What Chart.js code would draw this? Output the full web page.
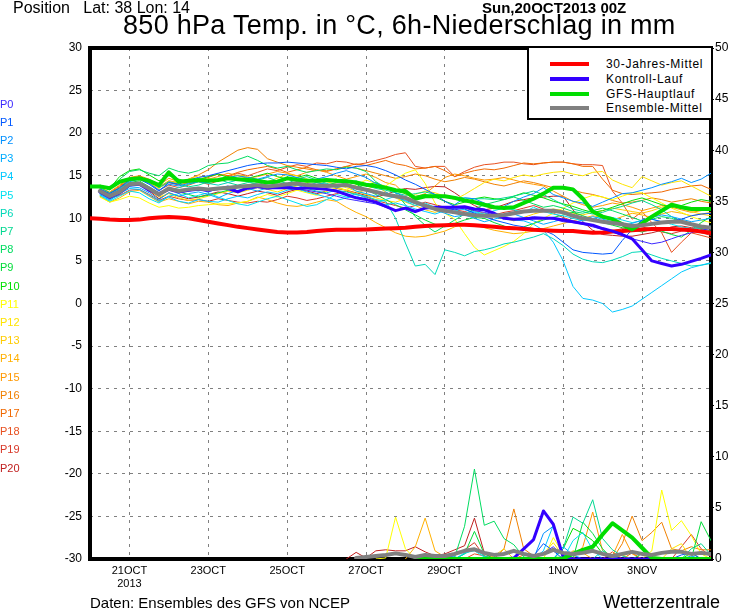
<!DOCTYPE html>
<html><head><meta charset="utf-8">
<script src="https://cdn.jsdelivr.net/npm/chart.js@4.4.1/dist/chart.umd.min.js"></script>
<style>
body{margin:0;background:#fff;}
#wrap{position:relative;width:730px;height:609px;overflow:hidden;font-family:"Liberation Sans",Arial,sans-serif;background:#fff;}
canvas{position:absolute;left:0;top:0;}
.t{position:absolute;white-space:pre;line-height:1;color:#000;}
#leg{position:absolute;left:527px;top:46px;width:182px;height:70px;border:2px solid #000;border-right:none;background:#fff;}
.ls{position:absolute;left:21px;width:39px;height:4px;}
.lt{position:absolute;left:77px;font-size:12px;letter-spacing:0.7px;line-height:1;white-space:pre;}
</style></head><body>
<div id="wrap">
<canvas id="c" width="730" height="609"></canvas>
<div class="t" style="left:13px;top:0px;font-size:16px;">Position   Lat: 38 Lon: 14</div>
<div class="t" style="left:482px;top:0px;font-size:15px;font-weight:bold;">Sun,20OCT2013 00Z</div>
<div class="t" style="left:123px;top:12px;font-size:27px;letter-spacing:0.3px;">850 hPa Temp. in °C, 6h-Niederschlag in mm</div>
<div class="t" style="left:90px;top:595px;font-size:15px;">Daten: Ensembles des GFS von NCEP</div>
<div class="t" style="right:10px;top:593px;font-size:18px;">Wetterzentrale</div>
<div id="leg">
  <div class="ls" style="top:14px;background:#ff0000"></div><div class="lt" style="top:10px">30-Jahres-Mittel</div>
  <div class="ls" style="top:29px;background:#3300ff"></div><div class="lt" style="top:25px">Kontroll-Lauf</div>
  <div class="ls" style="top:44px;background:#00dd00"></div><div class="lt" style="top:40px">GFS-Hauptlauf</div>
  <div class="ls" style="top:58px;background:#808080"></div><div class="lt" style="top:54px">Ensemble-Mittel</div>
</div>
<div id="plabels"></div>
</div>
<script>
const _ = null;
// x axis: 6-hourly steps from 20OCT2013 00Z (index 0) to index 63
const XTICK_IDX = [4, 12, 20, 28, 36, 48, 56];
const XTICK_LABELS = [['21OCT','2013'], '23OCT', '25OCT', '27OCT', '29OCT', '1NOV', '3NOV'];
const MEMBER_NAMES = ['P0','P1','P2','P3','P4','P5','P6','P7','P8','P9','P10','P11','P12','P13','P14','P15','P16','P17','P18','P19','P20'];
const MEMBER_COLORS = ['#3c28ff','#0058ff','#0090ff','#00acff','#00c8ff','#00e0f0','#00d8b8','#00d890','#00dc60','#00dc38','#00e000','#ffff00','#ffe400','#ffcc00','#ffb000','#ff9800','#f08000','#f06800','#e85020','#d83828','#c02020'];

// thick lines (850 hPa temperature, deg C)
const climT = [10.0,9.95,9.85,9.8,9.8,9.85,10.0,10.1, 10.15,10.1,10.0,9.8,9.6,9.4,9.2,9.0, 8.85,8.7,8.55,8.4,8.35,8.35,8.4,8.5, 8.6,8.65,8.67,8.67,8.7,8.75,8.8,8.85, 8.9,9.0,9.1,9.15,9.2,9.25,9.25,9.2, 9.1,9.0,8.9,8.85,8.75,8.65,8.6,8.55, 8.5,8.5,8.4,8.3,8.35,8.45,8.5,8.6, 8.7,8.75,8.75,8.75,8.7,8.6,8.45,8.3];
const ctrlT = [_,13.1,12.5,13.0,13.9,14.0,13.3,12.9, 13.4,13.1,13.3,13.4,13.3,13.5,13.5,13.1, 13.6,13.8,13.6,13.6,13.6,13.5,13.6,13.5, 13.4,13.2,12.8,12.4,12.2,11.9,11.4,10.9, 11.2,10.8,11.2,11.3,11.3,11.3,11.35,11.1, 11.0,10.6,10.0,9.9,9.95,10.0,10.0,10.0, 9.8,9.6,9.4,9.2,8.8,8.5,8.1,7.6, 6.3,5.0,4.7,4.4,4.6,4.95,5.3,5.7];
const mainT = [13.75,13.75,13.55,14.3,14.6,14.7,14.4,13.9, 15.4,14.3,14.4,14.5,14.4,14.5,14.7,14.6, 14.5,14.4,14.2,14.3,14.7,14.5,14.4,14.4, 14.5,14.4,14.35,14.2,13.95,13.8,13.6,13.3, 13.2,12.3,12.6,12.6,12.6,12.4,12.1,11.9, 11.6,11.3,11.2,11.3,11.8,12.3,12.9,13.6, 13.6,13.4,12.3,10.8,10.2,9.9,9.3,8.7, 9.4,10.2,10.9,11.6,11.3,11.1,11.1,11.1];
const meanT = [_,13.2,12.6,13.1,14.0,14.1,13.5,12.8, 13.5,13.2,13.4,13.5,13.4,13.5,13.6,13.7, 13.8,13.9,13.75,13.85,14.0,14.1,13.9,13.85, 13.8,13.85,13.9,13.6,13.35,13.1,12.8,12.6, 12.4,11.9,11.5,11.1,10.9,10.7,10.5,10.35, 10.3,10.3,10.4,10.6,10.8,10.9,10.9,10.9, 10.7,10.3,10.0,9.8,9.6,9.45,9.3,9.1, 9.2,9.35,9.5,9.6,9.6,9.3,9.05,8.9];

// ensemble members (850 hPa temperature)
const p0 = [_,13.0,12.3,13.2,14.0,14.2,13.4,12.6, 13.6,13.0,13.2,13.4,13.1,13.5,13.8,13.2, 13.4,13.6,13.4,13.6,13.8,13.5,13.3,13.1, 12.9,12.6,12.3,12.1,11.9,11.7,11.3,10.9, 11.3,10.9,11.2,11.4,11.2,11.0,11.2,10.9, 10.7,10.4,10.1,9.9,10.0,10.2,10.1,9.9, 9.6,9.5,9.3,9.0,8.7,8.4,8.0,7.6, 7.3,7.0,7.2,7.6,8.0,8.3,8.6,8.8];
const p1 = [_,13.4,12.9,13.6,14.5,14.6,14.0,13.2, 14.2,14.0,14.5,14.8,15.0,15.3,15.6,15.9, 16.2,16.4,16.5,16.5,16.6,16.5,16.4,16.3, 16.2,16.0,15.8,16.1,16.2,16.0,15.6,15.1, 14.5,14.0,13.4,12.8,12.0,11.4,11.1,10.6, 10.2,9.8,9.5,9.2,9.0,8.8,8.6,8.1, 7.2,6.3,6.0,5.9,5.8,5.9,7.4,8.7, 9.8,9.9,9.6,9.7,9.9,10.3,10.5,10.6];
const p2 = [_,13.5,12.8,13.4,14.3,14.6,14.1,13.3, 14.0,13.8,14.1,14.3,14.2,14.6,14.8,15.0, 14.8,14.6,14.9,15.2,15.1,14.8,14.5,14.6, 14.9,15.3,15.6,15.2,14.8,14.1,13.7,13.0, 12.5,12.0,11.6,11.2,11.0,11.6,12.4,12.3, 11.8,11.2,11.4,12.0,12.5,12.9,13.6,12.8, 12.4,12.0,11.8,11.4,11.9,12.4,12.9,13.0, 13.3,13.6,14.0,14.3,14.7,14.2,14.6,15.3];
const p3 = [_,12.9,12.2,12.8,13.7,13.6,13.0,12.2, 13.0,12.6,12.9,13.1,12.8,12.4,12.9,13.3, 13.5,13.2,13.6,14.0,13.7,13.4,13.8,14.2, 14.0,13.6,13.9,13.2,12.9,12.6,13.1,12.5, 12.1,11.7,11.3,11.0,10.6,10.2,10.4,10.0, 9.6,9.9,10.2,10.5,10.1,9.7,9.3,9.6, 9.9,9.5,9.8,10.2,9.9,9.6,9.2,9.4, 9.8,10.1,10.4,10.2,9.9,9.6,9.8,10.0];
const p4 = [_,12.8,12.1,12.9,13.5,13.4,12.7,12.0, 12.5,12.0,11.8,12.2,12.0,11.9,12.3,12.6, 12.4,12.8,13.1,12.9,13.3,13.5,13.1,12.8, 12.5,12.1,12.4,12.6,12.2,11.9,11.6,11.8, 11.5,11.1,10.8,10.5,10.9,11.2,11.0,10.7, 10.4,10.2,10.0,9.8,9.7,9.3,8.6,7.2, 5.0,2.0,0.6,0.4,0.0,-1.0,-0.7,-0.3, 0.5,1.3,2.1,2.9,3.7,4.2,4.5,4.8];
const p5 = [_,12.7,12.0,12.6,13.2,13.0,12.3,11.8, 12.6,12.9,12.4,12.7,13.0,12.5,12.1,11.7, 11.5,11.9,12.3,12.6,12.2,11.8,11.4,11.6, 12.2,12.8,12.5,12.9,12.4,11.8,12.2,12.6, 12.0,11.5,11.8,11.3,10.9,11.0,10.6,10.8, 10.5,10.9,11.2,11.0,10.7,11.3,10.8,10.5, 10.3,10.0,9.7,9.9,10.3,10.1,9.8,9.5, 9.7,9.9,9.6,9.3,9.0,8.8,8.9,9.1];
const p6 = [_,13.0,12.5,13.0,13.8,14.0,13.4,12.7, 13.3,13.6,14.0,14.3,14.1,13.9,14.2,14.5, 14.3,14.0,13.8,13.5,13.6,13.9,13.5,13.2, 13.0,13.3,13.1,12.8,12.6,12.2,12.0,10.0, 7.1,4.4,4.6,3.4,6.3,6.0,5.6,6.1, 6.3,6.6,7.0,7.2,7.5,7.8,8.2,7.6, 6.8,5.8,5.2,4.9,4.8,5.1,5.5,6.0, 6.1,5.7,5.3,5.0,4.7,4.4,4.5,4.7];
const p7 = [_,13.6,13.0,13.5,14.4,14.8,14.4,13.6, 14.3,14.0,13.7,13.9,14.3,14.6,14.2,13.9, 14.2,14.5,14.8,14.4,14.1,14.6,14.9,14.5, 14.1,13.8,14.2,14.4,13.9,13.5,13.3,13.0, 12.7,12.9,13.1,12.8,12.6,12.5,12.4,12.3, 12.3,12.2,12.4,12.6,12.9,13.2,12.8,12.2, 11.6,11.1,10.8,10.5,10.7,11.1,11.4,11.8, 12.1,11.6,11.0,10.2,9.6,9.2,8.7,8.3];
const p8 = [_,13.8,13.3,14.6,15.5,15.7,15.3,15.0, 15.9,15.5,15.3,15.6,16.2,16.4,16.5,16.9, 17.3,16.8,16.2,15.9,16.1,15.7,15.4,15.6, 15.8,15.7,16.0,15.9,15.5,14.3,13.6,13.0, 11.6,10.2,9.2,8.4,9.1,9.8,10.5,11.1, 11.6,11.9,12.2,12.5,12.1,11.7,11.3,11.5, 11.2,10.8,10.6,10.9,11.2,10.9,10.5,10.1, 9.7,9.9,10.2,10.0,9.6,9.2,8.8,8.5];
const p9 = [_,13.3,12.7,13.3,14.2,14.4,13.7,13.0, 13.4,13.1,12.8,12.5,12.7,13.0,13.3,13.6, 13.9,14.2,13.9,13.6,13.8,14.3,14.6,14.2, 13.9,14.2,14.5,14.0,13.4,12.8,12.2,11.6, 11.0,10.4,9.8,9.3,9.0,9.4,9.8,10.1, 10.0,9.5,9.1,8.8,9.0,9.4,9.8,10.1, 10.4,10.7,10.3,9.9,9.5,9.2,8.9,8.6, 8.4,8.7,8.5,8.1,7.8,8.6,9.5,10.2];
const p10 = [_,13.9,13.5,14.9,15.6,15.8,15.1,14.4, 15.0,14.6,14.3,14.5,14.9,15.2,14.8,14.5, 14.7,15.0,15.3,14.9,14.6,14.8,15.1,14.7, 14.4,14.6,14.1,13.7,13.9,14.2,13.6,13.2, 12.9,12.6,12.8,12.5,12.0,11.6,11.9,12.3, 12.5,12.3,12.2,12.6,13.0,12.7,12.4,12.0, 11.7,11.4,11.0,10.7,10.9,11.3,11.7,12.1, 12.4,12.0,11.6,11.3,11.5,11.9,12.2,12.0];
const p11 = [_,12.5,11.9,12.2,12.6,12.4,11.8,11.3, 11.5,11.2,11.3,11.5,11.6,11.7,11.7,11.8, 12.0,12.4,12.8,12.5,12.9,13.3,13.0,12.7, 13.2,13.6,13.3,13.9,14.5,14.1,13.8,14.6, 15.3,15.7,14.1,11.8,10.6,9.9,8.2,6.6, 5.7,6.2,6.7,7.3,8.2,9.4,10.0,10.6, 11.2,11.8,12.3,12.7,12.5,12.2,12.6,13.0, 13.0,12.4,11.8,11.2,10.7,10.2,9.8,9.5];
const p12 = [_,13.2,12.6,13.0,13.9,14.0,13.3,12.5, 12.9,12.4,12.1,12.3,12.6,12.9,13.2,13.0, 13.3,13.6,13.4,13.1,13.5,13.8,14.2,14.5, 14.3,14.0,13.6,13.2,12.8,12.4,12.1,11.9, 12.3,12.8,13.2,13.0,12.6,12.2,12.8,13.5, 14.2,14.6,14.4,14.8,15.1,14.9,15.2,15.4, 15.5,15.2,15.0,15.4,15.5,14.5,14.0,13.6, 14.9,14.4,13.9,14.2,14.4,13.8,13.2,12.6];
const p13 = [_,13.4,12.8,13.5,14.4,14.7,14.2,13.5, 14.4,14.1,14.6,15.0,14.7,14.4,14.8,15.1, 14.9,14.5,14.3,14.7,15.2,15.0,14.6,14.3, 14.0,13.7,13.3,12.9,13.4,13.8,13.1,12.4, 11.9,11.5,11.0,10.7,11.1,11.5,11.2,10.9, 10.6,10.3,10.0,9.7,10.1,10.5,10.8,11.1, 10.9,10.6,10.4,10.7,10.9,11.2,11.0,10.8, 10.6,10.9,11.3,11.6,11.2,10.8,10.5,10.3];
const p14 = [_,12.6,11.9,12.4,13.1,13.3,12.6,11.9, 12.3,12.0,11.7,12.0,11.9,11.6,11.5,11.8, 12.0,12.5,12.2,11.8,11.5,11.4,11.6,11.9, 12.2,12.0,11.3,10.7,10.2,9.5,8.9,8.3, 7.9,7.8,7.9,8.2,8.5,9.0,9.4,9.2, 8.9,8.6,8.4,8.2,8.3,8.5,8.8,9.1, 9.4,9.7,10.0,10.3,10.1,9.8,10.2,10.6, 10.4,10.1,10.5,10.8,10.6,10.3,10.5,10.7];
const p15 = [_,13.6,13.1,13.9,14.8,15.0,14.6,13.9, 14.7,14.3,14.0,14.4,14.6,14.9,15.3,15.0, 14.7,14.9,15.2,15.5,15.3,15.0,15.4,15.7, 15.4,15.0,14.6,14.9,15.2,14.8,14.2,13.9, 12.8,12.5,12.9,13.8,14.8,15.2,15.0,14.7, 14.5,14.6,14.8,14.5,14.2,14.0,13.8,13.2, 12.6,12.0,11.6,11.3,11.5,11.8,11.6,11.3, 10.9,11.2,11.5,11.3,11.0,10.7,10.9,11.2];
const p16 = [_,13.5,12.9,13.7,14.6,14.8,14.3,13.7, 14.4,14.2,14.6,15.1,15.7,16.6,17.3,18.0, 18.3,18.1,17.0,16.6,16.2,16.0,15.8,15.6, 15.6,15.8,16.1,15.9,15.6,15.3,15.0,14.7, 14.9,15.2,15.0,14.6,14.3,14.5,14.8,14.6, 14.3,14.0,13.8,14.1,14.4,14.2,13.9,13.6, 13.5,13.3,13.0,12.8,12.5,12.1,11.8,11.9, 12.1,12.4,12.2,11.9,12.1,12.3,12.0,11.8];
const p17 = [_,13.7,13.0,13.8,14.7,14.9,14.4,13.6, 14.2,13.9,14.2,14.4,14.8,15.2,15.0,15.4, 15.7,15.9,16.1,15.8,15.4,15.7,16.0,15.7, 15.5,15.8,16.1,16.4,16.2,16.5,16.8,16.4, 16.2,15.8,15.9,16.1,15.6,14.9,15.3,15.6, 15.8,15.7,15.9,16.2,16.5,16.4,16.5,16.6, 16.6,16.4,16.1,16.1,14.6,13.3,12.9,12.8, 12.9,13.0,13.1,13.4,13.6,13.8,13.9,13.4];
const p18 = [_,13.3,12.7,13.6,14.5,14.7,14.2,13.3, 13.9,13.6,13.9,14.3,14.0,14.4,14.9,15.3, 15.0,15.4,15.8,15.6,16.0,16.3,16.1,16.5, 16.4,16.7,16.6,16.3,16.5,16.8,17.1,17.5, 17.7,16.1,15.9,16.1,16.1,14.9,15.5,16.0, 16.3,16.4,16.6,16.6,16.4,16.3,16.5,16.6, 16.6,16.4,16.3,16.3,16.2,13.2,11.8,9.9, 10.8,9.5,8.3,6.0,7.2,8.3,8.0,7.7];
const p19 = [_,12.9,12.3,12.7,13.3,13.4,12.8,12.1, 12.6,12.3,12.1,12.2,12.0,12.3,12.1,11.9, 11.8,12.0,11.9,12.2,12.6,12.4,12.1,12.3, 12.6,12.9,13.2,12.8,12.5,12.1,11.8,11.5, 11.2,11.5,11.9,11.6,11.3,11.0,10.8,10.5, 10.2,10.4,10.7,10.9,11.2,11.5,11.1,10.6, 10.1,9.7,9.4,9.1,8.8,8.5,8.8,9.2, 9.0,8.7,8.4,8.2,8.5,8.7,8.3,8.0];
const p20 = [_,13.0,12.4,12.9,13.9,14.0,13.2,12.3, 13.0,12.6,12.3,12.5,12.8,13.1,12.9,12.6, 12.9,13.2,13.0,12.7,13.1,13.4,13.2,12.9, 13.2,13.5,13.3,13.0,12.7,12.5,12.8,13.2, 13.5,13.4,13.6,13.75,13.7,13.0,12.2,11.5, 11.0,11.2,11.6,12.0,12.2,12.4,12.5,12.6, 12.6,11.0,9.6,8.6,8.1,8.0,7.9,7.9, 8.1,8.3,8.6,9.0,9.1,8.9,8.8,9.0];

// 6h precipitation (mm), values for index 26 .. 63
const PRE_START = 26;
const ctrlP = [_,_,_,_,_,_,_,_, _,_,_,_,_,_,_,_, 0,0.1,1.0,1.9,4.7,3.4,0.2,0, 0,0,0,0,0,0,0,0, 0,0,0,0,0,0];
const mainP = [_,_,_,_,_,_,_,0, 0,0,0,0,0,0,0,0, 0,0,0,0,0,0,0.05,0.5, 0.9,1.2,2.4,3.5,2.8,2.1,1.1,0.1, 0,0,0,0,0,0];
const meanP = [_,0.1,0.2,0.3,0.4,0.55,0.4,0.2, 0.4,0.3,0.3,0.5,0.8,0.95,0.6,0.4, 0.5,0.8,0.5,0.3,0.5,0.9,0.6,0.5, 0.6,0.8,0.5,0.3,0.5,0.7,0.5,0.4, 0.6,0.7,0.7,0.5,0.6,0.5];
const r0 = [_,_,_,_,_,_,_,0, 0,0,0,0,0,0,0,0, 0,0,0,0,0.6,1.2,0.3,0, 0,0,0,0,0,0,0,0, 0,0,0,0,0,0];
const r1 = [_,_,_,_,_,_,_,0, 0,0,0,0,0,0,0,0, 0,0,0,0.3,1.5,0.8,0,0, 0,0,0,0,0,0,0,0, 0,0,0.4,0.6,0,0];
const r2 = [_,_,_,_,_,_,_,0, 0,0,0.3,0.2,0,0,0,0, 0,0,0,0,2.5,3.2,0.5,0, 0,0,0,0,0,0,0,0, 0,0,0,0,0,0];
const r3 = [_,_,_,_,_,_,_,0, 0,0,0,0,0,0,0,0, 0,0,0,0,0,0,1.2,0.4, 0,0,0,0,0,0,0,0, 0,0,0,0.3,0,0];
const r4 = [_,_,_,_,_,_,_,0, 0,0,0,0,0,0,0,0, 0,0,0,0,0.8,3.3,0.4,0, 0,0,0,0,0,0,0,0, 0,0,0,0,0,0];
const r5 = [_,_,_,_,_,_,_,0, 0,0,0,0,0.6,0.8,0.2,0, 0,0,0,0,0,0,0,1.8, 2.6,0.9,0,0,0,0,0,0, 0,0,0,0,0,0];
const r6 = [_,_,_,_,_,_,_,0, 0,0,0,0,0.5,1.0,0.3,0, 0,0,0,0,0,0,0,0, 0,0,0.8,0.2,0,0,0,0, 0,0,0,0,0,0];
const r7 = [_,_,_,_,_,_,_,0, 0,0,0,0,0,0,0,0, 0,0,0,0,0,0,1.0,4.1, 3.5,5.8,2.0,0.9,0.3,0,0,0, 0,0,0,1.0,1.5,0.4];
const r8 = [_,_,_,_,_,_,_,0, 0,0,0,0.2,3.2,8.8,3.3,3.7, 2.0,1.4,0.2,0,0,0,0,0, 0,0,0,0,0,0,0.5,0, 0,0,0,0,0,0];
const r9 = [_,_,_,_,_,_,_,0, 0,0,0,0,0.5,2.7,0.5,0, 0,0,0,0,0,0,0,0, 3.6,2.5,1.0,0,0,0,0,0, 0,0,0,0,3.65,1.8];
const r10 = [_,_,_,_,_,_,_,0, 0,0,0.3,0,0,0,0,0, 0,0,0,0,0,0,1.0,3.0, 2.5,1.8,0.5,0,0,0,0,0, 0,0,0,0.6,0,0];
const r11 = [_,_,_,0,0.1,4.1,1.0,0, 0,0,0,0,0,0,0,0, 0,0,0,0,0,2.1,0.5,0, 0,0,0,0,0,0,0,0.8, 6.75,2.8,3.75,2.3,0.5,0];
const r12 = [_,_,_,_,_,_,_,0, 0,0,0,0,0,0,0,0, 0,0,0,0,0.5,1.6,0.3,0, 0,0,0,0,0,0,0,0, 0,1.0,1.5,0,0,0];
const r13 = [_,_,_,_,_,_,_,0, 0,0,0,0,0,0,0,0.3, 1.0,0,0,0,0,0,0,0, 0,0,0,0,0.4,0,0,0, 0,0,0,0,0,0];
const r14 = [_,_,_,_,_,_,0,1.2, 4.0,0.8,0.2,0,0,0,0,0, 0,0,0,0,0,0,0,0.8, 0.6,0,0,0,0,0,0,0, 0,0,0,0,0,0];
const r15 = [_,_,_,_,_,_,_,0, 0,0,0,0,0,0,0,0, 0,0,0,0,0,0,0,0, 1.2,4.6,0.8,0.3,2.4,0.5,0,0, 0,0,0,0,0,0];
const r16 = [_,_,_,_,_,_,_,0, 0,0,0,0,0,0,0,0, 1.0,4.9,1.0,0.3,0,0,0,0, 0,0,0,0,1.5,4.2,1.8,2.6, 3.6,1.0,0.8,1.2,0.9,0.9];
const r17 = [_,_,_,_,_,_,_,0, 0,0,0,0,0,0,0,0, 0,0,0.4,0.2,0,0,0,0, 0,0,0,0,0,0.6,0,0, 0,0,0,0,0,0];
const r18 = [_,_,_,_,_,_,_,0, 0,0,0,0,0,0.5,0.3,0, 0,0,0,0,0,0,0,0, 0,0,0,0.7,0,0,0,0, 0,0,0,0,0,0];
const r19 = [_,_,_,_,_,_,_,0, 0,0,0,0.4,0.9,1.6,0.3,0, 0,0,0,0,0,0,0,0, 0,0,0,0,0,0,0,0, 0,0,1.2,2.4,1.0,0.2];
const r20 = [0,0.65,0.1,0.8,0.9,0.8,0.8,1.2, 0.7,0.3,0.5,0.9,1.3,4.0,0.6,0, 0,0,0,0,0,0,0,0, 0,0,0,0,0,0,0,0, 0,0,0,0,0,0];

const memberT = [p0,p1,p2,p3,p4,p5,p6,p7,p8,p9,p10,p11,p12,p13,p14,p15,p16,p17,p18,p19,p20];
const memberP = [r0,r1,r2,r3,r4,r5,r6,r7,r8,r9,r10,r11,r12,r13,r14,r15,r16,r17,r18,r19,r20];

// member labels at left
const pl = document.getElementById('plabels');
MEMBER_NAMES.forEach((n, k) => {
  const d = document.createElement('div');
  d.className = 't';
  d.style.cssText = 'left:0px;font-size:11px;top:' + (98.6 + 18.2 * k) + 'px;color:' + MEMBER_COLORS[k];
  d.textContent = n;
  pl.appendChild(d);
});

const pts = (arr, start) => arr.map((v, i) => ({x: i + start, y: v}));
const datasets = [
  {data: pts(meanT, 0), borderColor: '#808080', borderWidth: 4, yAxisID: 'y', order: 1},
  {data: pts(mainT, 0), borderColor: '#00dd00', borderWidth: 4, yAxisID: 'y', order: 2},
  {data: pts(ctrlT, 0), borderColor: '#3300ff', borderWidth: 3, yAxisID: 'y', order: 3},
  {data: pts(climT, 0), borderColor: '#ff0000', borderWidth: 4, yAxisID: 'y', order: 4},
  {data: pts(meanP, PRE_START), borderColor: '#808080', borderWidth: 4, yAxisID: 'y2', order: 5},
  {data: pts(mainP, PRE_START), borderColor: '#00dd00', borderWidth: 4, yAxisID: 'y2', order: 6},
  {data: pts(ctrlP, PRE_START), borderColor: '#3300ff', borderWidth: 3, yAxisID: 'y2', order: 7}
];
memberT.forEach((m, k) => {
  datasets.push({data: pts(m, 0), borderColor: MEMBER_COLORS[k], borderWidth: 1, yAxisID: 'y', order: 10});
  datasets.push({data: pts(memberP[k], PRE_START), borderColor: MEMBER_COLORS[k], borderWidth: 1, yAxisID: 'y2', order: 9});
});

const framePlugin = {
  id: 'frame',
  beforeDatasetsDraw(chart) {
    const a = chart.chartArea, ctx = chart.ctx;
    ctx.save();
    ctx.strokeStyle = '#000';
    ctx.lineWidth = 4;
    ctx.strokeRect(a.left, a.top, a.right - a.left, a.bottom - a.top);
    ctx.restore();
  }
};

const FONT = '"Liberation Sans", Arial, sans-serif';
new Chart(document.getElementById('c'), {
  type: 'line',
  data: {datasets},
  options: {
    responsive: false, animation: false, devicePixelRatio: 1,
    layout: {padding: {top: 48, left: 0, right: 0, bottom: 0}},
    elements: {point: {radius: 0}, line: {tension: 0, borderJoinStyle: 'round', borderCapStyle: 'round'}},
    plugins: {legend: {display: false}, tooltip: {enabled: false}},
    scales: {
      x: {
        type: 'linear', min: 0, max: 63,
        afterBuildTicks: s => { s.ticks = XTICK_IDX.map(v => ({value: v})); },
        afterFit: s => { s.height = 50; },
        ticks: {autoSkip: false, maxRotation: 0, padding: 5, color: '#000', font: {family: FONT, size: 11},
                callback: (v, i) => XTICK_LABELS[i]},
        grid: {color: '#808080', lineWidth: 1, drawTicks: false},
        border: {display: false, dash: [3, 5]}
      },
      y: {
        position: 'left', min: -30, max: 30,
        afterFit: s => { s.width = 90; },
        ticks: {stepSize: 5, padding: 8, color: '#000', font: {family: FONT, size: 12}},
        grid: {color: '#808080', lineWidth: 1, drawTicks: false},
        border: {display: false, dash: [3, 5]}
      },
      y2: {
        position: 'right', min: 0, max: 50,
        afterFit: s => { s.width = 19; },
        ticks: {stepSize: 5, padding: 1, color: '#000', font: {family: FONT, size: 12}},
        grid: {drawOnChartArea: false, drawTicks: true, tickLength: 3, tickColor: '#000', tickWidth: 1},
        border: {display: false}
      }
    }
  },
  plugins: [framePlugin]
});
</script>
</body></html>
